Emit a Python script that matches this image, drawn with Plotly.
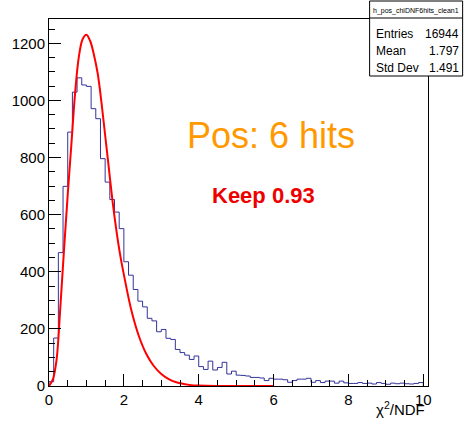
import plotly.graph_objects as go

# ---- data ----
bin_low = 0.0
bin_width = 0.125
counts = [15, 168, 467, 699, 889, 1029, 1079, 1054, 1049, 971,
          936, 796, 714, 653, 609, 551, 435, 388, 338, 297,
          277, 237, 228, 190, 198, 167, 163, 128, 117, 108,
          93, 105, 68, 58, 87, 56, 65, 83, 42, 52,
          38, 37, 35, 30, 30, 28, 19, 27, 24, 24,
          22, 13, 19, 24, 24, 27, 13, 19, 12, 17,
          17, 10, 17, 11, 9, 9, 12, 9, 10, 7,
          12, 9, 6, 10, 8, 10, 8, 7, 9, 12]

fit_x = [0.0, 0.1, 0.2, 0.3, 0.4, 0.5, 0.6, 0.7, 0.8, 0.9, 1.0, 1.1, 1.2, 1.3, 1.4,
         1.5, 1.6, 1.7, 1.8, 1.9, 2.0, 2.2, 2.4, 2.6, 2.8, 3.0, 3.2, 3.4, 3.6, 3.8,
         4.0, 4.5, 5.0, 6.0]
fit_y = [0, 22, 90, 270, 475, 670, 850, 1030, 1155, 1215, 1230, 1208, 1160, 1095, 995,
         878, 761, 645, 545, 460, 390, 265, 175, 112, 70, 42, 24, 13, 7, 3,
         1.5, 0.3, 0, 0]

x_range = [0, 10.125]
y_range = [0, 1285]
x_title = "χ<sup>2</sup>/NDF"
label_main = "Pos: 6 hits"
label_keep = "Keep 0.93"
stats_title = "h_pos_chiDNF6hits_clean1"
stats_labels = ["Entries", "Mean", "Std Dev"]
stats_values = ["16944", "1.797", "1.491"]

FONT = "Liberation Sans, Arial, Helvetica, sans-serif"

# ---- build step outline of histogram ----
edges = [bin_low + i * bin_width for i in range(len(counts) + 1)]
hx = [edges[0]] + edges[:-1] + [edges[-1]]
hy = [0] + counts + [0]

fig = go.Figure()
fig.add_trace(go.Scatter(x=hx, y=hy, mode="lines", line=dict(color="#333399", width=1, shape="hv"),
                         hoverinfo="skip", showlegend=False))
fig.add_trace(go.Scatter(x=fit_x, y=fit_y, mode="lines", line=dict(color="#ff0000", width=2, shape="spline"),
                         hoverinfo="skip", showlegend=False))

W, H = 465, 421
L, R, T, B = 45, 37, 19, 35
pw, ph = W - L - R, H - T - B

def px(xp):
    return (xp - L) / pw

def py(yp):
    return (H - B - yp) / ph

fig.update_layout(
    width=W, height=H,
    margin=dict(l=L, r=R, t=T, b=B, pad=0),
    paper_bgcolor="white", plot_bgcolor="white",
    font=dict(family=FONT, size=15, color="black"),
    xaxis=dict(range=x_range, showgrid=False, zeroline=False, showline=True, linecolor="black",
               linewidth=1, mirror=True, ticks="inside", ticklen=12, tickcolor="black",
               tick0=0, dtick=2, tickfont=dict(size=15),
               minor=dict(ticks="inside", ticklen=6, tickcolor="black", dtick=0.5, showgrid=False)),
    yaxis=dict(range=y_range, showgrid=False, zeroline=False, showline=True, linecolor="black",
               linewidth=1, mirror=True, ticks="inside", ticklen=12, tickcolor="black",
               tick0=0, dtick=200, tickfont=dict(size=15),
               minor=dict(ticks="inside", ticklen=6, tickcolor="black", dtick=50, showgrid=False)),
)

ann = []
ann.append(dict(xref="paper", yref="paper", x=px(427), y=py(420), xanchor="right", yanchor="bottom",
                text=x_title, showarrow=False, font=dict(size=15, family=FONT, color="black")))
ann.append(dict(xref="paper", yref="paper", x=px(182), y=py(135), xanchor="left", yanchor="middle",
                text=label_main, showarrow=False, font=dict(size=36, family=FONT, color="#ff9900")))
ann.append(dict(xref="paper", yref="paper", x=px(208), y=py(195), xanchor="left", yanchor="middle",
                text="<b>" + label_keep + "</b>", showarrow=False, font=dict(size=22, family=FONT, color="#ee0000")))

# stats box
bx0, bx1, by0, by1, bsep = 369, 463, 1, 76, 18
shapes = [
    dict(type="rect", xref="paper", yref="paper", x0=px(bx0), x1=px(bx1), y0=py(by1), y1=py(by0),
         line=dict(color="black", width=1), fillcolor="white", layer="above"),
    dict(type="line", xref="paper", yref="paper", x0=px(bx0), x1=px(bx1), y0=py(bsep), y1=py(bsep),
         line=dict(color="black", width=1), layer="above"),
]
ann.append(dict(xref="paper", yref="paper", x=px((bx0 + bx1) / 2), y=py((by0 + bsep) / 2 + 1),
                xanchor="center", yanchor="middle", text=stats_title, showarrow=False,
                font=dict(size=7, family=FONT, color="black")))
row_y = [34, 51, 68]
for lab, val, yy in zip(stats_labels, stats_values, row_y):
    ann.append(dict(xref="paper", yref="paper", x=px(373), y=py(yy), xanchor="left", yanchor="middle",
                    text=lab, showarrow=False, font=dict(size=12, family=FONT, color="black")))
    ann.append(dict(xref="paper", yref="paper", x=px(461), y=py(yy), xanchor="right", yanchor="middle",
                    text=val, showarrow=False, font=dict(size=12, family=FONT, color="black")))

fig.update_layout(annotations=ann, shapes=shapes)
fig.write_html("out.html")
